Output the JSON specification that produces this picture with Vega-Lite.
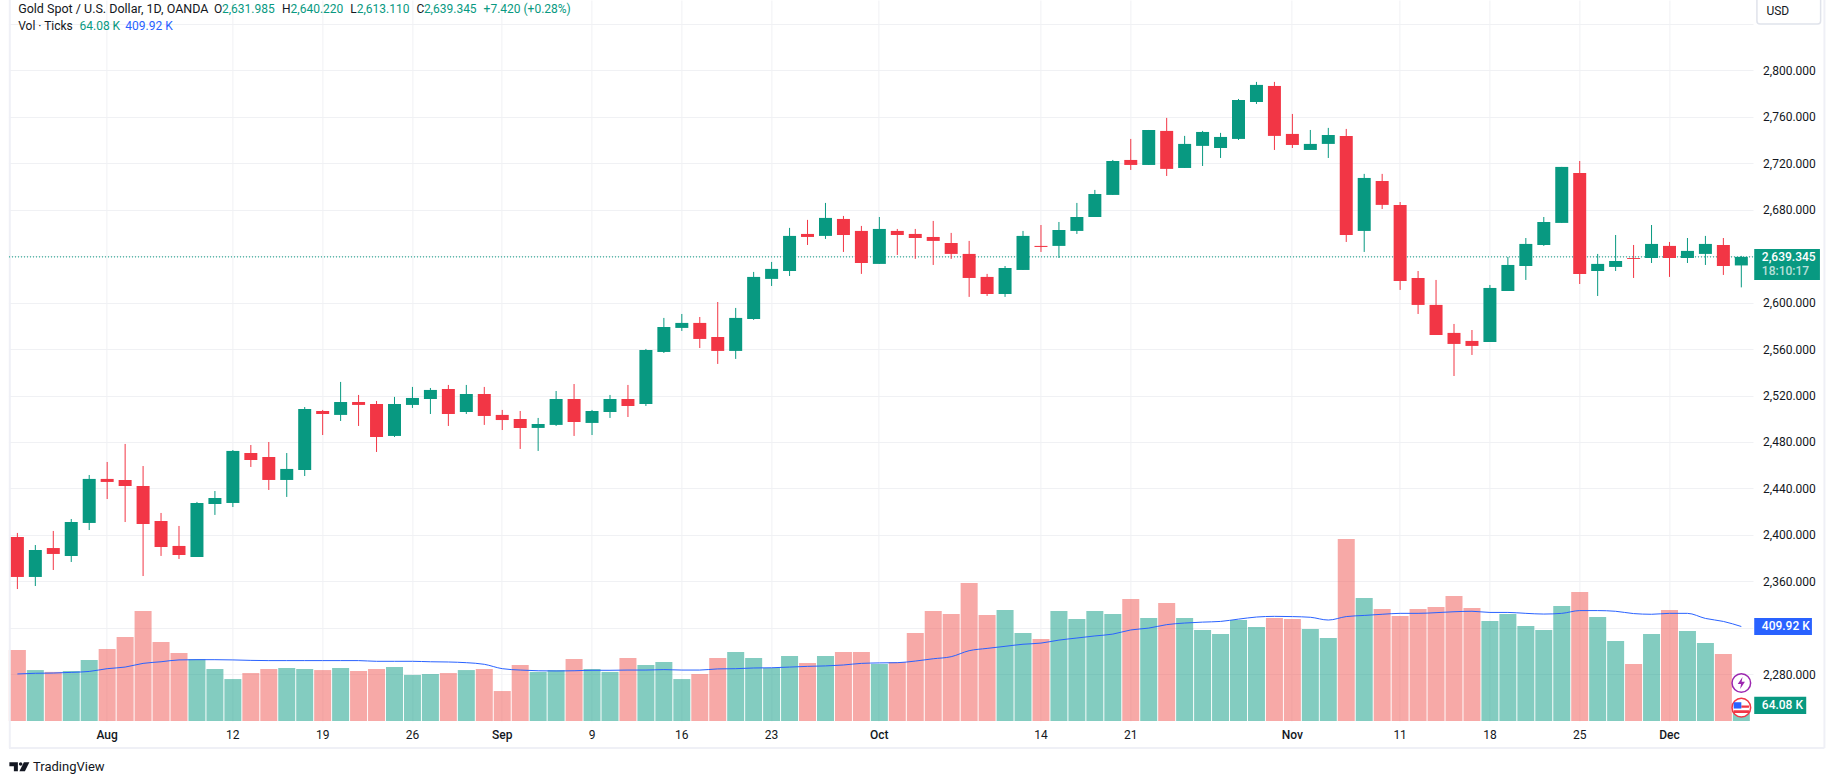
{
  "$schema": "https://vega.github.io/schema/vega-lite/v6.json",
  "description": "Gold Spot / U.S. Dollar daily candles with tick volume",
  "width": 1744.6,
  "height": 721,
  "autosize": "none",
  "padding": {"left": 8.4, "top": 0, "right": 82, "bottom": 63},
  "background": "#ffffff",
  "datasets": {
    "ohlcv": [
      {"date":"2024-07-25","open":2398.2,"high":2401.7,"low":2353.4,"close":2363.8,"volume":308,"ma":204},
      {"date":"2024-07-26","open":2363.8,"high":2391.3,"low":2356.0,"close":2387.0,"volume":221,"ma":207},
      {"date":"2024-07-29","open":2388.7,"high":2403.4,"low":2369.8,"close":2383.6,"volume":213,"ma":208},
      {"date":"2024-07-30","open":2381.9,"high":2413.7,"low":2376.7,"close":2411.1,"volume":217,"ma":211},
      {"date":"2024-07-31","open":2410.3,"high":2451.6,"low":2404.2,"close":2448.2,"volume":265,"ma":215},
      {"date":"2024-08-01","open":2448.2,"high":2462.8,"low":2430.9,"close":2445.6,"volume":312,"ma":227},
      {"date":"2024-08-02","open":2447.3,"high":2478.3,"low":2411.1,"close":2442.1,"volume":364,"ma":234},
      {"date":"2024-08-05","open":2442.1,"high":2459.3,"low":2364.6,"close":2409.4,"volume":477,"ma":250},
      {"date":"2024-08-06","open":2412.0,"high":2418.9,"low":2381.9,"close":2389.6,"volume":343,"ma":257},
      {"date":"2024-08-07","open":2390.5,"high":2407.7,"low":2379.3,"close":2382.7,"volume":295,"ma":265},
      {"date":"2024-08-08","open":2381.0,"high":2428.4,"low":2381.0,"close":2427.5,"volume":269,"ma":266},
      {"date":"2024-08-09","open":2426.6,"high":2437.8,"low":2417.2,"close":2431.8,"volume":226,"ma":266},
      {"date":"2024-08-12","open":2427.5,"high":2473.1,"low":2424.0,"close":2472.3,"volume":182,"ma":265},
      {"date":"2024-08-13","open":2470.5,"high":2477.4,"low":2458.5,"close":2464.5,"volume":208,"ma":263},
      {"date":"2024-08-14","open":2467.1,"high":2480.0,"low":2438.7,"close":2447.3,"volume":226,"ma":262},
      {"date":"2024-08-15","open":2447.3,"high":2470.5,"low":2432.7,"close":2456.8,"volume":230,"ma":262},
      {"date":"2024-08-16","open":2455.9,"high":2510.1,"low":2450.7,"close":2508.4,"volume":226,"ma":262},
      {"date":"2024-08-19","open":2506.7,"high":2507.6,"low":2486.0,"close":2504.1,"volume":221,"ma":262},
      {"date":"2024-08-20","open":2503.3,"high":2531.7,"low":2498.1,"close":2514.4,"volume":230,"ma":262},
      {"date":"2024-08-21","open":2514.4,"high":2520.5,"low":2493.8,"close":2511.9,"volume":217,"ma":262},
      {"date":"2024-08-22","open":2512.7,"high":2515.3,"low":2471.4,"close":2484.3,"volume":226,"ma":259},
      {"date":"2024-08-23","open":2485.2,"high":2518.8,"low":2484.3,"close":2512.7,"volume":234,"ma":259},
      {"date":"2024-08-26","open":2511.9,"high":2527.4,"low":2509.3,"close":2517.9,"volume":200,"ma":259},
      {"date":"2024-08-27","open":2517.0,"high":2526.5,"low":2504.1,"close":2524.8,"volume":204,"ma":257},
      {"date":"2024-08-28","open":2525.6,"high":2529.1,"low":2493.8,"close":2504.1,"volume":208,"ma":256},
      {"date":"2024-08-29","open":2505.8,"high":2529.1,"low":2504.1,"close":2521.3,"volume":221,"ma":253},
      {"date":"2024-08-30","open":2521.3,"high":2527.4,"low":2494.7,"close":2502.4,"volume":226,"ma":246},
      {"date":"2024-09-02","open":2503.3,"high":2507.6,"low":2490.3,"close":2498.9,"volume":130,"ma":227},
      {"date":"2024-09-03","open":2499.8,"high":2506.7,"low":2474.0,"close":2492.1,"volume":243,"ma":221},
      {"date":"2024-09-04","open":2492.1,"high":2500.7,"low":2472.3,"close":2495.5,"volume":213,"ma":218},
      {"date":"2024-09-05","open":2494.7,"high":2523.9,"low":2493.8,"close":2517.0,"volume":221,"ma":217},
      {"date":"2024-09-06","open":2517.0,"high":2529.9,"low":2485.2,"close":2497.2,"volume":269,"ma":218},
      {"date":"2024-09-09","open":2496.4,"high":2507.6,"low":2486.0,"close":2506.7,"volume":226,"ma":220},
      {"date":"2024-09-10","open":2505.8,"high":2520.5,"low":2500.7,"close":2517.0,"volume":213,"ma":220},
      {"date":"2024-09-11","open":2517.0,"high":2529.1,"low":2501.5,"close":2511.0,"volume":273,"ma":221},
      {"date":"2024-09-12","open":2512.7,"high":2560.1,"low":2511.0,"close":2559.2,"volume":243,"ma":221},
      {"date":"2024-09-13","open":2557.5,"high":2586.8,"low":2556.6,"close":2579.0,"volume":256,"ma":223},
      {"date":"2024-09-16","open":2578.2,"high":2590.2,"low":2575.6,"close":2582.5,"volume":182,"ma":221},
      {"date":"2024-09-17","open":2582.5,"high":2587.6,"low":2560.9,"close":2568.7,"volume":204,"ma":221},
      {"date":"2024-09-18","open":2570.4,"high":2600.5,"low":2547.2,"close":2558.4,"volume":273,"ma":226},
      {"date":"2024-09-19","open":2558.4,"high":2595.4,"low":2551.5,"close":2586.8,"volume":299,"ma":227},
      {"date":"2024-09-20","open":2585.9,"high":2626.4,"low":2585.1,"close":2622.1,"volume":273,"ma":230},
      {"date":"2024-09-23","open":2620.4,"high":2635.0,"low":2614.3,"close":2629.0,"volume":230,"ma":231},
      {"date":"2024-09-24","open":2627.2,"high":2664.3,"low":2622.9,"close":2657.4,"volume":282,"ma":234},
      {"date":"2024-09-25","open":2659.1,"high":2671.2,"low":2649.6,"close":2656.5,"volume":252,"ma":237},
      {"date":"2024-09-26","open":2657.4,"high":2685.8,"low":2654.8,"close":2672.9,"volume":282,"ma":239},
      {"date":"2024-09-27","open":2672.0,"high":2674.6,"low":2643.6,"close":2658.2,"volume":299,"ma":243},
      {"date":"2024-09-30","open":2661.7,"high":2666.0,"low":2624.7,"close":2634.1,"volume":299,"ma":250},
      {"date":"2024-10-01","open":2633.3,"high":2673.7,"low":2633.3,"close":2663.4,"volume":247,"ma":252},
      {"date":"2024-10-02","open":2661.7,"high":2663.4,"low":2641.0,"close":2658.2,"volume":256,"ma":253},
      {"date":"2024-10-03","open":2659.1,"high":2663.4,"low":2637.6,"close":2655.6,"volume":382,"ma":260},
      {"date":"2024-10-04","open":2656.5,"high":2670.3,"low":2632.4,"close":2653.1,"volume":477,"ma":270},
      {"date":"2024-10-07","open":2651.3,"high":2660.0,"low":2637.6,"close":2641.9,"volume":464,"ma":279},
      {"date":"2024-10-08","open":2641.9,"high":2653.1,"low":2604.9,"close":2621.2,"volume":599,"ma":305},
      {"date":"2024-10-09","open":2622.1,"high":2624.7,"low":2605.7,"close":2607.4,"volume":460,"ma":315},
      {"date":"2024-10-10","open":2607.4,"high":2631.5,"low":2604.9,"close":2629.8,"volume":482,"ma":324},
      {"date":"2024-10-11","open":2628.1,"high":2661.7,"low":2628.1,"close":2657.4,"volume":382,"ma":333},
      {"date":"2024-10-14","open":2648.8,"high":2666.8,"low":2643.6,"close":2647.9,"volume":356,"ma":338},
      {"date":"2024-10-15","open":2648.8,"high":2669.4,"low":2638.4,"close":2662.5,"volume":477,"ma":351},
      {"date":"2024-10-16","open":2661.7,"high":2685.8,"low":2659.1,"close":2673.7,"volume":442,"ma":360},
      {"date":"2024-10-17","open":2673.7,"high":2697.0,"low":2673.7,"close":2693.5,"volume":477,"ma":369},
      {"date":"2024-10-18","open":2692.7,"high":2722.8,"low":2692.7,"close":2721.9,"volume":464,"ma":377},
      {"date":"2024-10-21","open":2722.8,"high":2740.9,"low":2714.2,"close":2718.5,"volume":529,"ma":395},
      {"date":"2024-10-22","open":2718.5,"high":2748.6,"low":2718.5,"close":2748.6,"volume":447,"ma":403},
      {"date":"2024-10-23","open":2747.8,"high":2759.0,"low":2709.0,"close":2715.1,"volume":512,"ma":418},
      {"date":"2024-10-24","open":2715.9,"high":2743.5,"low":2715.9,"close":2736.6,"volume":447,"ma":425},
      {"date":"2024-10-25","open":2734.9,"high":2747.8,"low":2717.6,"close":2746.9,"volume":395,"ma":429},
      {"date":"2024-10-28","open":2733.1,"high":2746.1,"low":2724.5,"close":2742.6,"volume":377,"ma":432},
      {"date":"2024-10-29","open":2740.9,"high":2775.3,"low":2740.0,"close":2774.4,"volume":438,"ma":442},
      {"date":"2024-10-30","open":2772.7,"high":2790.0,"low":2771.0,"close":2787.4,"volume":408,"ma":451},
      {"date":"2024-10-31","open":2786.5,"high":2790.0,"low":2731.4,"close":2743.5,"volume":447,"ma":454},
      {"date":"2024-11-01","open":2745.2,"high":2762.4,"low":2733.1,"close":2735.7,"volume":442,"ma":453},
      {"date":"2024-11-04","open":2731.4,"high":2748.6,"low":2731.4,"close":2736.6,"volume":399,"ma":450},
      {"date":"2024-11-05","open":2736.6,"high":2750.4,"low":2724.5,"close":2744.3,"volume":360,"ma":438},
      {"date":"2024-11-06","open":2743.5,"high":2749.5,"low":2652.2,"close":2658.2,"volume":790,"ma":453},
      {"date":"2024-11-07","open":2661.7,"high":2710.8,"low":2643.6,"close":2707.3,"volume":534,"ma":458},
      {"date":"2024-11-08","open":2704.7,"high":2710.8,"low":2680.6,"close":2684.1,"volume":486,"ma":463},
      {"date":"2024-11-11","open":2684.1,"high":2686.6,"low":2610.9,"close":2618.6,"volume":455,"ma":467},
      {"date":"2024-11-12","open":2621.2,"high":2627.2,"low":2590.2,"close":2598.0,"volume":486,"ma":467},
      {"date":"2024-11-13","open":2598.0,"high":2619.5,"low":2572.1,"close":2572.1,"volume":495,"ma":470},
      {"date":"2024-11-14","open":2573.9,"high":2581.6,"low":2536.8,"close":2564.4,"volume":542,"ma":474},
      {"date":"2024-11-15","open":2567.0,"high":2576.4,"low":2554.9,"close":2562.7,"volume":490,"ma":476},
      {"date":"2024-11-18","open":2566.1,"high":2615.2,"low":2566.1,"close":2612.6,"volume":434,"ma":471},
      {"date":"2024-11-19","open":2610.0,"high":2639.3,"low":2610.0,"close":2632.4,"volume":464,"ma":471},
      {"date":"2024-11-20","open":2631.5,"high":2655.6,"low":2619.5,"close":2650.5,"volume":412,"ma":467},
      {"date":"2024-11-21","open":2649.6,"high":2673.7,"low":2648.8,"close":2669.4,"volume":395,"ma":464},
      {"date":"2024-11-22","open":2668.6,"high":2716.8,"low":2668.6,"close":2716.8,"volume":499,"ma":467},
      {"date":"2024-11-25","open":2711.6,"high":2721.9,"low":2616.0,"close":2624.7,"volume":560,"ma":479},
      {"date":"2024-11-26","open":2627.2,"high":2641.9,"low":2605.7,"close":2633.3,"volume":451,"ma":479},
      {"date":"2024-11-27","open":2630.7,"high":2658.2,"low":2627.2,"close":2635.8,"volume":347,"ma":476},
      {"date":"2024-11-28","open":2638.4,"high":2649.6,"low":2621.2,"close":2637.6,"volume":247,"ma":466},
      {"date":"2024-11-29","open":2638.4,"high":2666.8,"low":2634.1,"close":2650.5,"volume":377,"ma":463},
      {"date":"2024-12-02","open":2648.8,"high":2652.2,"low":2622.1,"close":2638.4,"volume":482,"ma":467},
      {"date":"2024-12-03","open":2638.4,"high":2655.6,"low":2634.1,"close":2644.5,"volume":390,"ma":467},
      {"date":"2024-12-04","open":2641.9,"high":2657.4,"low":2632.4,"close":2650.5,"volume":338,"ma":445},
      {"date":"2024-12-05","open":2649.6,"high":2655.6,"low":2623.8,"close":2631.5,"volume":291,"ma":432},
      {"date":"2024-12-06","open":2631.985,"high":2640.22,"low":2613.11,"close":2639.345,"volume":64.08,"ma":409.92}
    ]
  },
  "layer": [
    {
      "data": {"name": "ohlcv"},
      "layer": [
        {
          "mark": {"type": "bar", "width": 17, "opacity": 0.5},
          "encoding": {
            "x": {
              "field": "date",
              "type": "ordinal",
              "scale": {"type": "band", "paddingInner": 0, "paddingOuter": 0.075, "align": 0},
              "axis": {
                "title": null,
                "values": ["2024-08-01","2024-08-12","2024-08-19","2024-08-26","2024-09-02","2024-09-09","2024-09-16","2024-09-23","2024-10-01","2024-10-14","2024-10-21","2024-11-01","2024-11-11","2024-11-18","2024-11-25","2024-12-02"],
                "labelExpr": "indexof(['2024-08-01','2024-09-02','2024-10-01','2024-11-01','2024-12-02'],datum.value)>=0 ? timeFormat(toDate(datum.value+'T12:00:00'),'%b') : ''+parseInt(substring(datum.value,8,10))",
                "labelFontWeight": {"condition": {"test": "indexof(['2024-08-01','2024-09-02','2024-10-01','2024-11-01','2024-12-02'],datum.value)>=0", "value": 500}, "value": 400},
                "labelAngle": 0,
                "labelFont": "Roboto",
                "labelFontSize": 12,
                "labelColor": "#131722",
                "labelPadding": 8,
                "labelOverlap": false,
                "ticks": false,
                "domain": false,
                "grid": true,
                "gridColor": "#f0f1f4",
                "gridWidth": 1
              }
            },
            "y": {
              "field": "volume",
              "type": "quantitative",
              "scale": {"domain": [0, 3128], "nice": false, "zero": false},
              "axis": null
            },
            "color": {"condition": {"test": "datum.close >= datum.open", "value": "#089981"}, "value": "#ef5350"}
          }
        },
        {
          "mark": {"type": "line", "color": "#2962ff", "strokeWidth": 1, "interpolate": "monotone"},
          "encoding": {
            "x": {"field": "date", "type": "ordinal"},
            "y": {"field": "ma", "type": "quantitative", "axis": null}
          }
        }
      ]
    },
    {
      "layer": [
        {
          "data": {"values": [{"date": "2024-07-25", "low": 2216.5, "high": 2860.5}]},
          "mark": {"type": "rule", "color": "#eff0f6", "strokeWidth": 2, "xOffset": -7.6},
          "encoding": {
            "x": {"field": "date", "type": "ordinal"},
            "y": {
              "field": "low",
              "type": "quantitative",
              "scale": {"domain": [2239.8, 2860.5], "nice": false, "zero": false},
              "axis": {
                "orient": "right",
                "title": null,
                "values": [2280,2320,2360,2400,2440,2480,2520,2560,2600,2640,2680,2720,2760,2800,2840],
                "labelExpr": "datum.value === 2320 || datum.value === 2840 ? '' : format(datum.value, ',.3f')",
                "labelFont": "Roboto",
                "labelFontSize": 12,
                "labelColor": "#131722",
                "labelAlign": "left",
                "labelPadding": 9.6,
                "labelOverlap": false,
                "labelFlush": false,
                "ticks": false,
                "domain": false,
                "grid": true,
                "gridColor": "#f0f1f4",
                "gridWidth": 1
              }
            },
            "y2": {"field": "high"}
          }
        },
        {
          "data": {"values": [{"date": "2024-12-06", "low": 2216.5, "high": 2860.5}]},
          "mark": {"type": "rule", "color": "#eff0f6", "strokeWidth": 2, "xOffset": 83.1},
          "encoding": {
            "x": {"field": "date", "type": "ordinal"},
            "y": {"field": "low", "type": "quantitative"},
            "y2": {"field": "high"}
          }
        },
        {
          "data": {"values": [{"start": "2024-07-25", "end": "2024-12-06", "price": 2216.5}]},
          "mark": {"type": "rule", "color": "#eff0f6", "strokeWidth": 2, "xOffset": -8.4, "x2Offset": 83.1},
          "encoding": {
            "x": {"field": "start", "type": "ordinal"},
            "x2": {"field": "end"},
            "y": {"field": "price", "type": "quantitative"}
          }
        },
        {
          "data": {"values": [{"price": 2639.345}]},
          "mark": {"type": "rule", "color": "#089981", "strokeWidth": 1, "strokeDash": [1, 2]},
          "encoding": {"y": {"field": "price", "type": "quantitative"}}
        },
        {
          "data": {"name": "ohlcv"},
          "mark": {"type": "rule", "strokeWidth": 1},
          "encoding": {
            "x": {"field": "date", "type": "ordinal"},
            "y": {"field": "low", "type": "quantitative"},
            "y2": {"field": "high"},
            "color": {"condition": {"test": "datum.close >= datum.open", "value": "#089981"}, "value": "#f23645"}
          }
        },
        {
          "data": {"name": "ohlcv"},
          "mark": {"type": "bar", "width": 13},
          "encoding": {
            "x": {"field": "date", "type": "ordinal"},
            "y": {"field": "open", "type": "quantitative"},
            "y2": {"field": "close"},
            "color": {"condition": {"test": "datum.close >= datum.open", "value": "#089981"}, "value": "#f23645"}
          }
        },
        {
          "data": {"values": [{"date": "2024-12-06", "low": 2619.5, "high": 2646.2}]},
          "mark": {"type": "bar", "width": 65.7, "xOffset": 45.75, "color": "#089981"},
          "encoding": {
            "x": {"field": "date", "type": "ordinal"},
            "y": {"field": "low", "type": "quantitative"},
            "y2": {"field": "high"}
          }
        },
        {
          "data": {"values": [{"date": "2024-12-06", "low": 2313.8, "high": 2328.5}]},
          "mark": {"type": "bar", "width": 57.7, "xOffset": 41.75, "color": "#2962ff"},
          "encoding": {
            "x": {"field": "date", "type": "ordinal"},
            "y": {"field": "low", "type": "quantitative"},
            "y2": {"field": "high"}
          }
        },
        {
          "data": {"values": [{"date": "2024-12-06", "low": 2245.8, "high": 2260.7}]},
          "mark": {"type": "bar", "width": 52, "xOffset": 38.9, "color": "#089981"},
          "encoding": {
            "x": {"field": "date", "type": "ordinal"},
            "y": {"field": "low", "type": "quantitative"},
            "y2": {"field": "high"}
          }
        },
        {
          "data": {"values": [{"date": "2024-12-06", "low": 2839.9, "high": 2870}]},
          "mark": {"type": "bar", "width": 63.7, "xOffset": 47.45, "fill": "#ffffff", "stroke": "#e0e3eb", "strokeWidth": 1.5, "cornerRadius": 3, "clip": false},
          "encoding": {
            "x": {"field": "date", "type": "ordinal"},
            "y": {"field": "low", "type": "quantitative"},
            "y2": {"field": "high"}
          }
        },
        {
          "data": {"values": [{"date": "2024-12-06", "price": 2272.5}, {"date": "2024-12-06", "price": 2251.3}]},
          "mark": {"type": "point", "shape": "circle", "size": 346, "fill": "#ffffff", "opacity": 1, "strokeWidth": 1.5},
          "encoding": {
            "x": {"field": "date", "type": "ordinal"},
            "y": {"field": "price", "type": "quantitative"},
            "stroke": {"condition": {"test": "datum.price > 2260", "value": "#9c27b0"}, "value": "#f23645"}
          }
        },
        {
          "data": {"values": [{"date": "2024-12-06", "price": 2272.5}]},
          "mark": {"type": "point", "shape": "M0.2,-1L-0.6,0.15H-0.05L-0.2,1L0.6,-0.2H0.05Z", "size": 144, "filled": true, "color": "#9c27b0", "opacity": 1},
          "encoding": {
            "x": {"field": "date", "type": "ordinal"},
            "y": {"field": "price", "type": "quantitative"}
          }
        },
        {
          "data": {"values": [{"date": "2024-12-06", "price": 2251.3}]},
          "mark": {"type": "point", "shape": "M0,-0.25H0.85V0H0ZM-0.85,0.3H0.85V0.6H-0.85Z", "size": 324, "filled": true, "color": "#f23645", "opacity": 1},
          "encoding": {
            "x": {"field": "date", "type": "ordinal"},
            "y": {"field": "price", "type": "quantitative"}
          }
        },
        {
          "data": {"values": [{"date": "2024-12-06", "price": 2251.3}]},
          "mark": {"type": "point", "shape": "M-0.85,-0.6H0V0.1H-0.85Z", "size": 324, "filled": true, "color": "#2962ff", "opacity": 1},
          "encoding": {
            "x": {"field": "date", "type": "ordinal"},
            "y": {"field": "price", "type": "quantitative"}
          }
        },
        {
          "data": {"values": [{"date": "2024-07-25", "price": 2200.4}]},
          "mark": {"type": "point", "shape": "M-1,-0.45H-0.15V0.45H-0.55V-0.05H-1ZM0.3,-0.27A0.17,0.17,0,1,1,-0.04,-0.27A0.17,0.17,0,1,1,0.3,-0.27ZM0.45,-0.45H1L0.55,0.45H0Z", "size": 400, "filled": true, "color": "#131722", "opacity": 1, "xOffset": 2},
          "encoding": {
            "x": {"field": "date", "type": "ordinal"},
            "y": {"field": "price", "type": "quantitative"}
          }
        },
        {
          "data": {"values": [{"date": "2024-07-25", "price": 2853.1, "label": "Gold Spot / U.S. Dollar, 1D, OANDA"}]},
          "mark": {"type": "text", "align": "left", "dx": 0.8, "font": "Roboto", "fontSize": 12.5, "color": "#131722"},
          "encoding": {
            "x": {"field": "date", "type": "ordinal"},
            "y": {"field": "price", "type": "quantitative"},
            "text": {"field": "label"}
          }
        },
        {
          "data": {"values": [{"date": "2024-07-25", "price": 2838.4, "label": "Vol · Ticks"}]},
          "mark": {"type": "text", "align": "left", "dx": 0.8, "font": "Roboto", "fontSize": 12, "color": "#131722"},
          "encoding": {
            "x": {"field": "date", "type": "ordinal"},
            "y": {"field": "price", "type": "quantitative"},
            "text": {"field": "label"}
          }
        },
        {
          "data": {"values": [{"date": "2024-07-25", "price": 2853.1, "label": "O"}]},
          "mark": {"type": "text", "align": "left", "dx": 196.6, "font": "Roboto", "fontSize": 12, "color": "#131722"},
          "encoding": {"x": {"field": "date", "type": "ordinal"}, "y": {"field": "price", "type": "quantitative"}, "text": {"field": "label"}}
        },
        {
          "data": {"values": [{"date": "2024-07-25", "price": 2853.1, "label": "2,631.985"}]},
          "mark": {"type": "text", "align": "left", "dx": 204.6, "font": "Roboto", "fontSize": 12, "color": "#089981"},
          "encoding": {"x": {"field": "date", "type": "ordinal"}, "y": {"field": "price", "type": "quantitative"}, "text": {"field": "label"}}
        },
        {
          "data": {"values": [{"date": "2024-07-25", "price": 2853.1, "label": "H"}]},
          "mark": {"type": "text", "align": "left", "dx": 264.6, "font": "Roboto", "fontSize": 12, "color": "#131722"},
          "encoding": {"x": {"field": "date", "type": "ordinal"}, "y": {"field": "price", "type": "quantitative"}, "text": {"field": "label"}}
        },
        {
          "data": {"values": [{"date": "2024-07-25", "price": 2853.1, "label": "2,640.220"}]},
          "mark": {"type": "text", "align": "left", "dx": 273.2, "font": "Roboto", "fontSize": 12, "color": "#089981"},
          "encoding": {"x": {"field": "date", "type": "ordinal"}, "y": {"field": "price", "type": "quantitative"}, "text": {"field": "label"}}
        },
        {
          "data": {"values": [{"date": "2024-07-25", "price": 2853.1, "label": "L"}]},
          "mark": {"type": "text", "align": "left", "dx": 332.9, "font": "Roboto", "fontSize": 12, "color": "#131722"},
          "encoding": {"x": {"field": "date", "type": "ordinal"}, "y": {"field": "price", "type": "quantitative"}, "text": {"field": "label"}}
        },
        {
          "data": {"values": [{"date": "2024-07-25", "price": 2853.1, "label": "2,613.110"}]},
          "mark": {"type": "text", "align": "left", "dx": 339.3, "font": "Roboto", "fontSize": 12, "color": "#089981"},
          "encoding": {"x": {"field": "date", "type": "ordinal"}, "y": {"field": "price", "type": "quantitative"}, "text": {"field": "label"}}
        },
        {
          "data": {"values": [{"date": "2024-07-25", "price": 2853.1, "label": "C"}]},
          "mark": {"type": "text", "align": "left", "dx": 399, "font": "Roboto", "fontSize": 12, "color": "#131722"},
          "encoding": {"x": {"field": "date", "type": "ordinal"}, "y": {"field": "price", "type": "quantitative"}, "text": {"field": "label"}}
        },
        {
          "data": {"values": [{"date": "2024-07-25", "price": 2853.1, "label": "2,639.345"}]},
          "mark": {"type": "text", "align": "left", "dx": 406.5, "font": "Roboto", "fontSize": 12, "color": "#089981"},
          "encoding": {"x": {"field": "date", "type": "ordinal"}, "y": {"field": "price", "type": "quantitative"}, "text": {"field": "label"}}
        },
        {
          "data": {"values": [{"date": "2024-07-25", "price": 2853.1, "label": "+7.420 (+0.28%)"}]},
          "mark": {"type": "text", "align": "left", "dx": 466.2, "font": "Roboto", "fontSize": 12, "color": "#089981"},
          "encoding": {"x": {"field": "date", "type": "ordinal"}, "y": {"field": "price", "type": "quantitative"}, "text": {"field": "label"}}
        },
        {
          "data": {"values": [{"date": "2024-07-25", "price": 2838.4, "label": "64.08 K"}]},
          "mark": {"type": "text", "align": "left", "dx": 62.1, "font": "Roboto", "fontSize": 12, "color": "#089981"},
          "encoding": {"x": {"field": "date", "type": "ordinal"}, "y": {"field": "price", "type": "quantitative"}, "text": {"field": "label"}}
        },
        {
          "data": {"values": [{"date": "2024-07-25", "price": 2838.4, "label": "409.92 K"}]},
          "mark": {"type": "text", "align": "left", "dx": 107.9, "font": "Roboto", "fontSize": 12, "color": "#2962ff"},
          "encoding": {"x": {"field": "date", "type": "ordinal"}, "y": {"field": "price", "type": "quantitative"}, "text": {"field": "label"}}
        },
        {
          "data": {"values": [{"date": "2024-07-25", "price": 2200.4, "label": "TradingView"}]},
          "mark": {"type": "text", "align": "left", "dx": 15.6, "font": "Roboto", "fontSize": 13, "color": "#131722"},
          "encoding": {"x": {"field": "date", "type": "ordinal"}, "y": {"field": "price", "type": "quantitative"}, "text": {"field": "label"}}
        },
        {
          "data": {"values": [{"date": "2024-12-06", "price": 2851.1, "label": "USD"}]},
          "mark": {"type": "text", "align": "left", "dx": 25.1, "font": "Roboto", "fontSize": 12, "color": "#131722"},
          "encoding": {"x": {"field": "date", "type": "ordinal"}, "y": {"field": "price", "type": "quantitative"}, "text": {"field": "label"}}
        },
        {
          "data": {"values": [{"date": "2024-12-06", "price": 2639.5, "label": "2,639.345"}, {"date": "2024-12-06", "price": 2321.2, "label": "409.92 K"}, {"date": "2024-12-06", "price": 2253.3, "label": "64.08 K"}]},
          "mark": {"type": "text", "align": "left", "dx": 20.5, "font": "Roboto", "fontSize": 12, "fontWeight": 500, "color": "#ffffff"},
          "encoding": {"x": {"field": "date", "type": "ordinal"}, "y": {"field": "price", "type": "quantitative"}, "text": {"field": "label"}}
        },
        {
          "data": {"values": [{"date": "2024-12-06", "price": 2627.5, "label": "18:10:17"}]},
          "mark": {"type": "text", "align": "left", "dx": 20.5, "font": "Roboto", "fontSize": 12, "fontWeight": 500, "color": "#ffffff", "opacity": 0.7},
          "encoding": {"x": {"field": "date", "type": "ordinal"}, "y": {"field": "price", "type": "quantitative"}, "text": {"field": "label"}}
        }
      ]
    }
  ],
  "resolve": {"scale": {"y": "independent"}},
  "config": {"view": {"stroke": null}}
}
